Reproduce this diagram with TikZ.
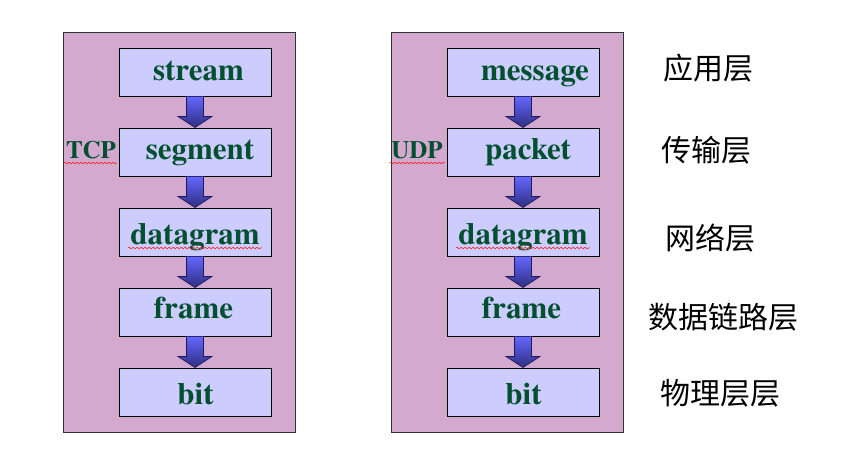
\documentclass[tikz,border=0pt]{standalone}
\usepackage{fontspec}
\IfFontExistsTF{texgyretermes-bold.otf}
  {\newfontfamily\serifbold{texgyretermes-bold.otf}}
  {\newfontfamily\serifbold{lmroman10-bold.otf}}
\newfontfamily\cjk{Noto Sans CJK SC}
\usetikzlibrary{calc,decorations.pathmorphing}
\definecolor{panelfill}{HTML}{D4A9D0}
\definecolor{boxfill}{HTML}{CCCCFF}
\definecolor{txtgreen}{HTML}{004F2E}
\definecolor{arrtop}{HTML}{6666FF}
\definecolor{arrbot}{HTML}{2E2E80}
\definecolor{arredge}{HTML}{1A1A55}
\tikzset{
  panel/.style={draw=black!80, line width=0.8pt, fill=panelfill, rectangle, inner sep=0pt, minimum width=232pt, minimum height=400pt},
  layerbox/.style={draw=black, line width=0.9pt, fill=boxfill, rectangle, inner sep=0pt, minimum width=152pt, minimum height=48pt},
  word/.style={anchor=base, inner sep=0pt, text=txtgreen, font=\serifbold\fontsize{31}{31}\selectfont},
  proto/.style={anchor=base, inner sep=0pt, text=txtgreen, font=\serifbold\fontsize{25}{25}\selectfont},
  layername/.style={anchor=center, inner sep=0pt, text=black, font=\cjk\fontsize{30}{30}\selectfont},
  blockarrow/.style={draw=arredge, line width=0.6pt, top color=arrtop, bottom color=arrbot, shading angle=0},
  squiggle/.style={draw=red, line width=0.5pt, decorate, decoration={snake, amplitude=0.8pt, segment length=4pt}}
}
\newcommand{\downarrowbetween}[2]{%
  \path[blockarrow] ($(#1.south)+(-8.5,0)$) -- ($(#1.south)+(8.5,0)$) -- ($(#2.north)+(8.5,-11)$) -- ($(#2.north)+(17,-11)$) -- (#2.north) -- ($(#2.north)+(-17,-11)$) -- ($(#2.north)+(-8.5,-11)$) -- cycle;}
\begin{document}
\begin{tikzpicture}[x=1pt,y=-1pt]
\useasboundingbox (0,0) rectangle (849,454);
\fill[white] (0,0) rectangle (849,454);
% panels
\node[panel] (pl) at (179,232) {};
\node[panel] (pr) at (507,232) {};
% left boxes
\node[layerbox] (l1) at (195,72) {};
\node[layerbox] (l2) at (195,152) {};
\node[layerbox] (l3) at (195,232) {};
\node[layerbox] (l4) at (195,312) {};
\node[layerbox] (l5) at (195,392) {};
% right boxes
\node[layerbox] (r1) at (523,72) {};
\node[layerbox] (r2) at (523,152) {};
\node[layerbox] (r3) at (523,232) {};
\node[layerbox] (r4) at (523,312) {};
\node[layerbox] (r5) at (523,392) {};
% arrows
\downarrowbetween{l1}{l2}
\downarrowbetween{l2}{l3}
\downarrowbetween{l3}{l4}
\downarrowbetween{l4}{l5}
\downarrowbetween{r1}{r2}
\downarrowbetween{r2}{r3}
\downarrowbetween{r3}{r4}
\downarrowbetween{r4}{r5}
% left words
\node[word] (tl1) at (198.5,81) {stream};
\node[word] (tl2) at (200,160) {segment};
\node[word] (tl3) at (195,245) {datagram};
\node[word] (tl4) at (193.5,319) {frame};
\node[word] (tl5) at (195.5,404) {bit};
% right words
\node[word] (tr1) at (535,81) {message};
\node[word] (tr2) at (528,160) {packet};
\node[word] (tr3) at (523,245) {datagram};
\node[word] (tr4) at (521.5,319) {frame};
\node[word] (tr5) at (523.5,404) {bit};
% protocols
\node[proto] (tcp) at (91,159) {TCP};
\node[proto] (udp) at (417,159) {UDP};
% spell-check squiggles
\coordinate (sq1a) at (64,163); \coordinate (sq1b) at (117,163);
\coordinate (sq2a) at (390,163); \coordinate (sq2b) at (445,163);
\coordinate (sq3a) at (128,248); \coordinate (sq3b) at (262,248);
\coordinate (sq4a) at (456,248); \coordinate (sq4b) at (590,248);
\draw[squiggle] (sq1a) -- (sq1b);
\draw[squiggle] (sq2a) -- (sq2b);
\draw[squiggle] (sq3a) -- (sq3b);
\draw[squiggle] (sq4a) -- (sq4b);
% layer names
\node[layername] (n1) at (708,68) {应用层};
\node[layername] (n2) at (706,150) {传输层};
\node[layername] (n3) at (710,238) {网络层};
\node[layername] (n4) at (723,317) {数据链路层};
\node[layername] (n5) at (720,393) {物理层层};
\end{tikzpicture}
\end{document}
